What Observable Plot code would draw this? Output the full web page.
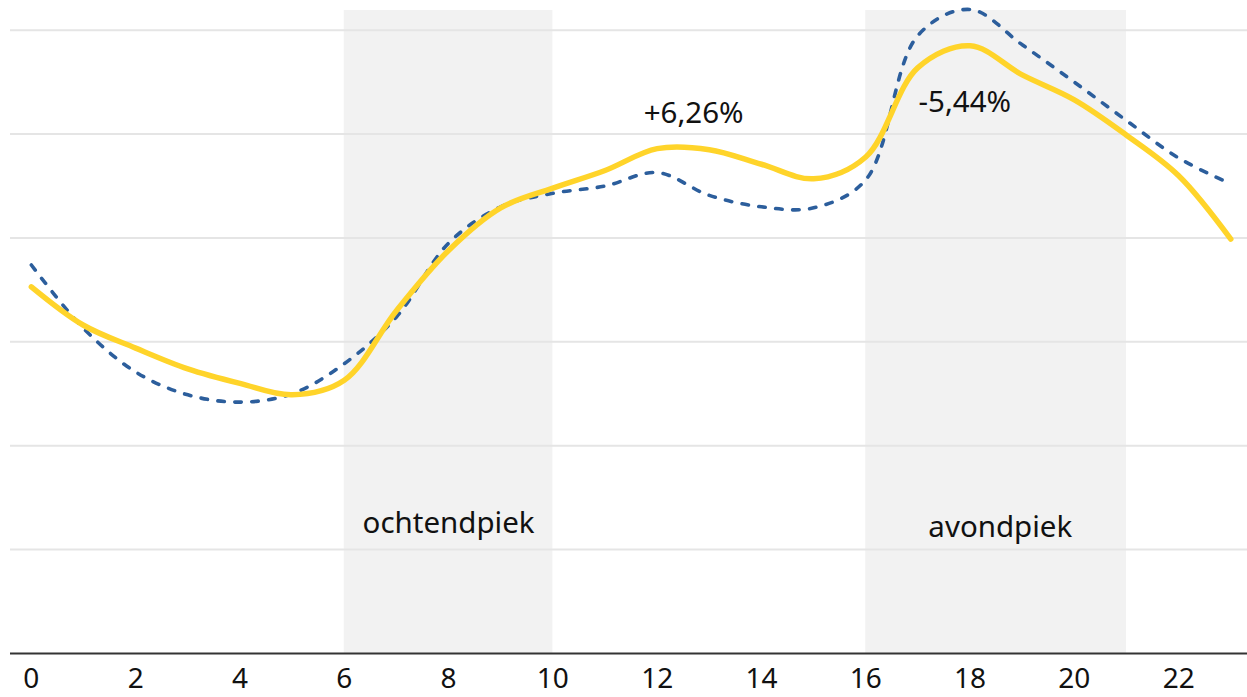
<!DOCTYPE html>
<html>
<head>
<meta charset="utf-8">
<script src="https://cdn.jsdelivr.net/npm/d3@7"></script>
<script src="https://cdn.jsdelivr.net/npm/@observablehq/plot@0.6"></script>
<style>
  body { margin: 0; background: #fff; }
  #chart svg { display: block; }
  #chart svg g[aria-label="x-axis tick label"] text { font-family: 'Liberation Sans Narrow', 'Noto Sans', sans-serif; }
</style>
</head>
<body>
<div id="chart"></div>
<script>
const hours = d3.range(0, 24);
const current = [3.53, 3.16, 2.94, 2.74, 2.60, 2.49, 2.63, 3.30, 3.88, 4.29, 4.48, 4.65, 4.86, 4.85, 4.71, 4.57, 4.78, 5.64, 5.85, 5.57, 5.33, 4.99, 4.60, 3.99];
const previous = [3.74, 3.13, 2.71, 2.49, 2.42, 2.50, 2.79, 3.24, 3.95, 4.30, 4.43, 4.50, 4.63, 4.41, 4.30, 4.29, 4.56, 5.95, 6.20, 5.86, 5.50, 5.13, 4.77, 4.52];
const peaks = [
  {start: 6, end: 10, name: "ochtendpiek", lx: 8, ly: 1.25},
  {start: 16, end: 21, name: "avondpiek", lx: 18.58, ly: 1.21}
];
const changes = [
  {label: "+6,26%", x: 12.7, y: 5.20},
  {label: "-5,44%", x: 17.9, y: 5.30}
];
const gridValues = [1, 2, 3, 4, 5, 6];
const xTicks = d3.range(0, 23, 2);

const curData = hours.map((h, i) => ({h, v: current[i]}));
const prevData = hours.map((h, i) => ({h, v: previous[i]}));

const chart = Plot.plot({
  width: 1247,
  height: 697,
  marginLeft: 10,
  marginRight: 0,
  marginTop: 10,
  marginBottom: 44,
  style: {fontFamily: "'Noto Sans', sans-serif", fontSize: "28px", color: "#111"},
  x: {domain: [-0.4, 23.32], ticks: xTicks, tickSize: 0, tickPadding: 15, label: null},
  y: {domain: [0, 6.19], axis: null},
  marks: [
    Plot.rectY(peaks, {x1: "start", x2: "end", y1: 0, y2: 6.19, fill: "#f2f2f2"}),
    Plot.ruleY(gridValues, {stroke: "#e5e5e5", strokeWidth: 2}),
    Plot.ruleY([0], {stroke: "#333", strokeWidth: 2}),
    Plot.line(prevData, {x: "h", y: "v", curve: "catmull-rom", stroke: "#2c5e9c", strokeWidth: 3.6, strokeDasharray: "6.5,10.5", strokeLinecap: "round"}),
    Plot.line(curData, {x: "h", y: "v", curve: "catmull-rom", stroke: "#ffd42a", strokeWidth: 5.5}),
    Plot.text(peaks, {x: "lx", y: "ly", text: "name", fontSize: 29.5, fill: "#111"}),
    Plot.text(changes, {x: "x", y: "y", text: "label", fontSize: 29.5, fill: "#111"})
  ]
});
document.getElementById("chart").append(chart);
</script>
</body>
</html>
